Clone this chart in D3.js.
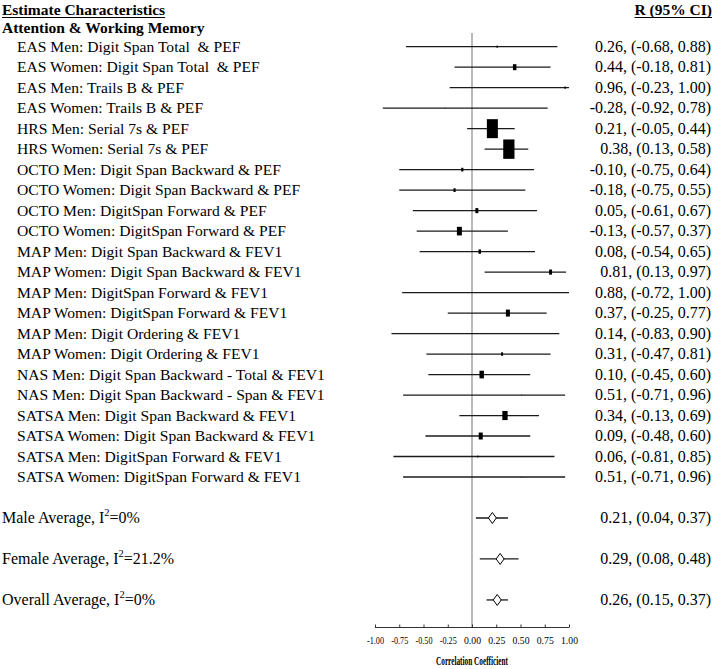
<!DOCTYPE html>
<html>
<head>
<meta charset="utf-8">
<script src="https://cdn.jsdelivr.net/npm/d3@7"></script>
<style>
  html, body { margin: 0; padding: 0; background: #fff; }
  svg text { font-family: "Liberation Serif", "Times New Roman", serif; fill: #000; white-space: pre; }
</style>
</head>
<body>
<svg id="chart" width="714" height="669"></svg>
<script>
// ---- data ----
const studyLabels = [
  "EAS Men: Digit Span Total  & PEF",
  "EAS Women: Digit Span Total  & PEF",
  "EAS Men: Trails B & PEF",
  "EAS Women: Trails B & PEF",
  "HRS Men: Serial 7s & PEF",
  "HRS Women: Serial 7s & PEF",
  "OCTO Men: Digit Span Backward & PEF",
  "OCTO Women: Digit Span Backward & PEF",
  "OCTO Men: DigitSpan Forward & PEF",
  "OCTO Women: DigitSpan Forward & PEF",
  "MAP Men: Digit Span Backward & FEV1",
  "MAP Women: Digit Span Backward & FEV1",
  "MAP Men: DigitSpan Forward & FEV1",
  "MAP Women: DigitSpan Forward & FEV1",
  "MAP Men: Digit Ordering & FEV1",
  "MAP Women: Digit Ordering & FEV1",
  "NAS Men: Digit Span Backward - Total & FEV1",
  "NAS Men: Digit Span Backward - Span & FEV1",
  "SATSA Men: Digit Span Backward & FEV1",
  "SATSA Women: Digit Span Backward & FEV1",
  "SATSA Men: DigitSpan Forward & FEV1",
  "SATSA Women: DigitSpan Forward & FEV1"
];
const studyEst   = [0.26, 0.44, 0.96, -0.28, 0.21, 0.38, -0.10, -0.18, 0.05, -0.13, 0.08, 0.81, 0.88, 0.37, 0.14, 0.31, 0.10, 0.51, 0.34, 0.09, 0.06, 0.51];
const studyLower = [-0.68, -0.18, -0.23, -0.92, -0.05, 0.13, -0.75, -0.75, -0.61, -0.57, -0.54, 0.13, -0.72, -0.25, -0.83, -0.47, -0.45, -0.71, -0.13, -0.48, -0.81, -0.71];
const studyUpper = [0.88, 0.81, 1.00, 0.78, 0.44, 0.58, 0.64, 0.55, 0.67, 0.37, 0.65, 0.97, 1.00, 0.77, 0.90, 0.81, 0.60, 0.96, 0.69, 0.60, 0.85, 0.96];
// study weights (relative marker area)
const studyWeight = [0.3, 2.1, 0.3, 0.05, 20.9, 21.8, 0.8, 0.8, 1.5, 4.3, 1.1, 1.5, 0.05, 2.8, 0.05, 0.7, 3.4, 0.05, 4.8, 2.8, 0.2, 0.05];

const summaryLabels = ["Male Average, I", "Female Average, I", "Overall Average, I"];
const summaryI2     = ["=0%", "=21.2%", "=0%"];
const summaryEst    = [0.21, 0.29, 0.26];
const summaryLower  = [0.04, 0.08, 0.15];
const summaryUpper  = [0.37, 0.48, 0.37];

const tickValues = [-1.00, -0.75, -0.50, -0.25, 0.00, 0.25, 0.50, 0.75, 1.00];

const titleLeft = "Estimate Characteristics";
const titleRight = "R (95% CI)";
const sectionTitle = "Attention & Working Memory";
const axisTitle = "Correlation Coefficient";

// ---- drawing ----
const svg = d3.select("#chart");
const x = d3.scaleLinear().domain([-1, 1]).range([375, 569]);
const rowY = d3.scaleLinear().domain([0, 21]).range([46.7, 477]);
const summaryRow = [23, 25, 27];
const axisY = 627.5;
const f2 = v => d3.format(".2f")(v).replace("\u2212", "-");
const fmtCI = (e, l, u) => `${f2(e)}, (${f2(l)}, ${f2(u)})`;

// headers
const tl = svg.append("text").attr("x", 2).attr("y", 15)
  .attr("font-size", 15.5).attr("font-weight", "bold").text(titleLeft);
const tlw = tl.node().getComputedTextLength();
svg.append("line").attr("x1", 2).attr("x2", 2 + tlw).attr("y1", 17.5).attr("y2", 17.5)
  .attr("stroke", "#000").attr("stroke-width", 1);
const tr = svg.append("text").attr("x", 712).attr("y", 15).attr("text-anchor", "end")
  .attr("font-size", 15.5).attr("font-weight", "bold").text(titleRight);
const trw = tr.node().getComputedTextLength();
svg.append("line").attr("x1", 712 - trw).attr("x2", 712).attr("y1", 17.5).attr("y2", 17.5)
  .attr("stroke", "#000").attr("stroke-width", 1);
svg.append("text").attr("x", 2).attr("y", 33).attr("font-size", 15.5)
  .attr("font-weight", "bold").text(sectionTitle);

// zero reference line
svg.append("line").attr("x1", x(0)).attr("x2", x(0)).attr("y1", 33).attr("y2", axisY)
  .attr("stroke", "#8c8c8c").attr("stroke-width", 1.2);

// study rows
const rows = svg.append("g").selectAll("g").data(studyLabels).join("g");
rows.append("text").attr("x", 17).attr("y", (d, i) => rowY(i) + 5)
  .attr("font-size", 15.6).text(d => d);
rows.append("text").attr("x", 711).attr("y", (d, i) => rowY(i) + 5)
  .attr("font-size", 16).attr("text-anchor", "end")
  .text((d, i) => fmtCI(studyEst[i], studyLower[i], studyUpper[i]));
rows.append("line")
  .attr("x1", (d, i) => x(studyLower[i])).attr("x2", (d, i) => x(studyUpper[i]))
  .attr("y1", (d, i) => rowY(i)).attr("y2", (d, i) => rowY(i))
  .attr("stroke", "#1a1a1a").attr("stroke-width", 1.3);
const aspect = 0.58;
rows.append("rect")
  .each(function (d, i) {
    const area = studyWeight[i] * 10;
    const w = Math.sqrt(area * aspect);
    const h = w / aspect;
    d3.select(this).attr("x", x(studyEst[i]) - w / 2).attr("y", rowY(i) - h / 2)
      .attr("width", w).attr("height", h);
  })
  .attr("fill", "#000");

// summary rows
const sums = svg.append("g").selectAll("g").data(summaryLabels).join("g");
const sumText = sums.append("text").attr("x", 2).attr("y", (d, i) => rowY(summaryRow[i]) + 5)
  .attr("font-size", 16);
sumText.append("tspan").text(d => d);
sumText.append("tspan").attr("font-size", 10.5).attr("dy", -6.5).text("2");
sumText.append("tspan").attr("dy", 6.5).text((d, i) => summaryI2[i]);
sums.append("text").attr("x", 711).attr("y", (d, i) => rowY(summaryRow[i]) + 5)
  .attr("font-size", 16).attr("text-anchor", "end")
  .text((d, i) => fmtCI(summaryEst[i], summaryLower[i], summaryUpper[i]));
sums.append("line")
  .attr("x1", (d, i) => x(summaryLower[i])).attr("x2", (d, i) => x(summaryUpper[i]))
  .attr("y1", (d, i) => rowY(summaryRow[i])).attr("y2", (d, i) => rowY(summaryRow[i]))
  .attr("stroke", "#1a1a1a").attr("stroke-width", 1.3);
sums.append("path")
  .attr("d", (d, i) => {
    const cx = x(summaryEst[i]), cy = rowY(summaryRow[i]);
    return `M${cx - 4},${cy} L${cx},${cy - 5.5} L${cx + 4},${cy} L${cx},${cy + 5.5} Z`;
  })
  .attr("fill", "#fff").attr("stroke", "#000").attr("stroke-width", 1);

// x axis
const axis = d3.axisBottom(x).tickValues(tickValues).tickSize(-3).tickPadding(6)
  .tickFormat(f2);
const ag = svg.append("g").attr("transform", `translate(0,${axisY})`).call(axis);
ag.select(".domain").attr("stroke", "#333").attr("stroke-width", 1.2).attr("d", `M${x(-1)},0H${x(1)}`);
ag.selectAll(".tick line").attr("stroke", "#333");
ag.selectAll(".tick text")
  .attr("font-family", "'Liberation Serif', serif").attr("font-size", 11)
  .attr("fill", "#000").attr("y", 16).attr("dy", 0)
  .attr("textLength", 17).attr("lengthAdjust", "spacingAndGlyphs");
svg.append("text").attr("x", x(0)).attr("y", 665).attr("text-anchor", "middle")
  .attr("font-size", 12).attr("font-weight", "bold")
  .attr("textLength", 72).attr("lengthAdjust", "spacingAndGlyphs").text(axisTitle);
</script>
</body>
</html>
